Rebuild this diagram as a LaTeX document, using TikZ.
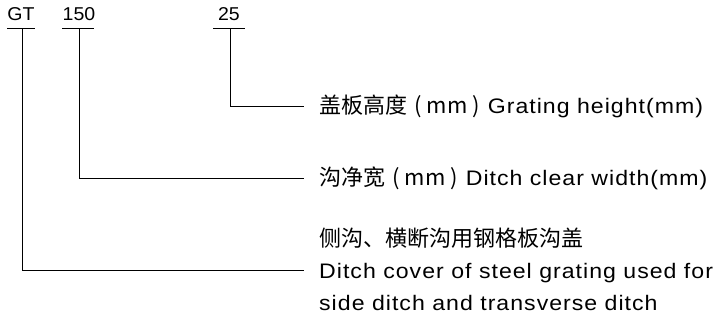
\documentclass[tikz,border=0pt]{standalone}
\usepackage{fontspec}
\usepackage{graphicx}
\setmainfont{Liberation Sans}
\newfontfamily\engfont[LetterSpace=4.4]{Liberation Sans}
\newfontfamily\cjk{Noto Sans CJK SC}
\newcommand\wideR[1]{\scalebox{1.10}[1]{\engfont #1}}
\newcommand\wideT[1]{\scalebox{1.05}[1]{#1}}
\newcommand\cjkpart[1]{{\cjk\fontsize{22}{24}\selectfont #1\kern7pt(\kern5pt mm\kern5pt)}\kern8pt}
\begin{document}
\begin{tikzpicture}[x=1pt,y=-1pt,
  conn/.style={line width=0.9pt,black},
  code/.style={inner sep=0pt,anchor=base,font=\fontsize{18.6}{20}\selectfont},
  desc/.style={inner sep=0pt,anchor=base west,font=\fontsize{21}{24}\selectfont}]
\useasboundingbox (0,0) rectangle (718,320);
% codes
\node[code] (gt) at (21,20.7) {\wideT{GT}};
\node[code] (w) at (79,20.7) {\wideT{150}};
\node[code] (h) at (229,20.7) {\wideT{25}};
% underlines
\coordinate (gtL) at (7,28.3); \coordinate (gtR) at (35,28.3);
\coordinate (wL) at (62,28.3); \coordinate (wR) at (94,28.3);
\coordinate (hL) at (213,28.3); \coordinate (hR) at (245,28.3);
\draw[conn] (gtL) -- (gtR);
\draw[conn] (wL) -- (wR);
\draw[conn] (hL) -- (hR);
\coordinate (gtT) at (22.3,28.3);
\coordinate (wT) at (79,28.3);
\coordinate (hT) at (230.7,28.3);
% descriptions
\node[desc] (dh) at (319,114) {\cjkpart{盖板高度}\wideR{Grating height(mm)}};
\node[desc] (dw) at (319,186) {\cjkpart{沟净宽}\wideR{Ditch clear width(mm)}};
\node[desc] (dgc) at (319,246.5) {\cjk\fontsize{22}{24}\selectfont 侧沟、横断沟用钢格板沟盖};
\node[desc] (dg1) at (319,278.3) {\wideR{Ditch cover of steel grating used for}};
\node[desc] (dg2) at (319,310.5) {\wideR{side ditch and transverse ditch}};
\coordinate (eh) at (304,106.7);
\coordinate (ew) at (304,178.5);
\coordinate (eg) at (304,270.7);
% connectors
\draw[conn] (hT) |- (eh);
\draw[conn] (wT) |- (ew);
\draw[conn] (gtT) |- (eg);
\end{tikzpicture}
\end{document}
